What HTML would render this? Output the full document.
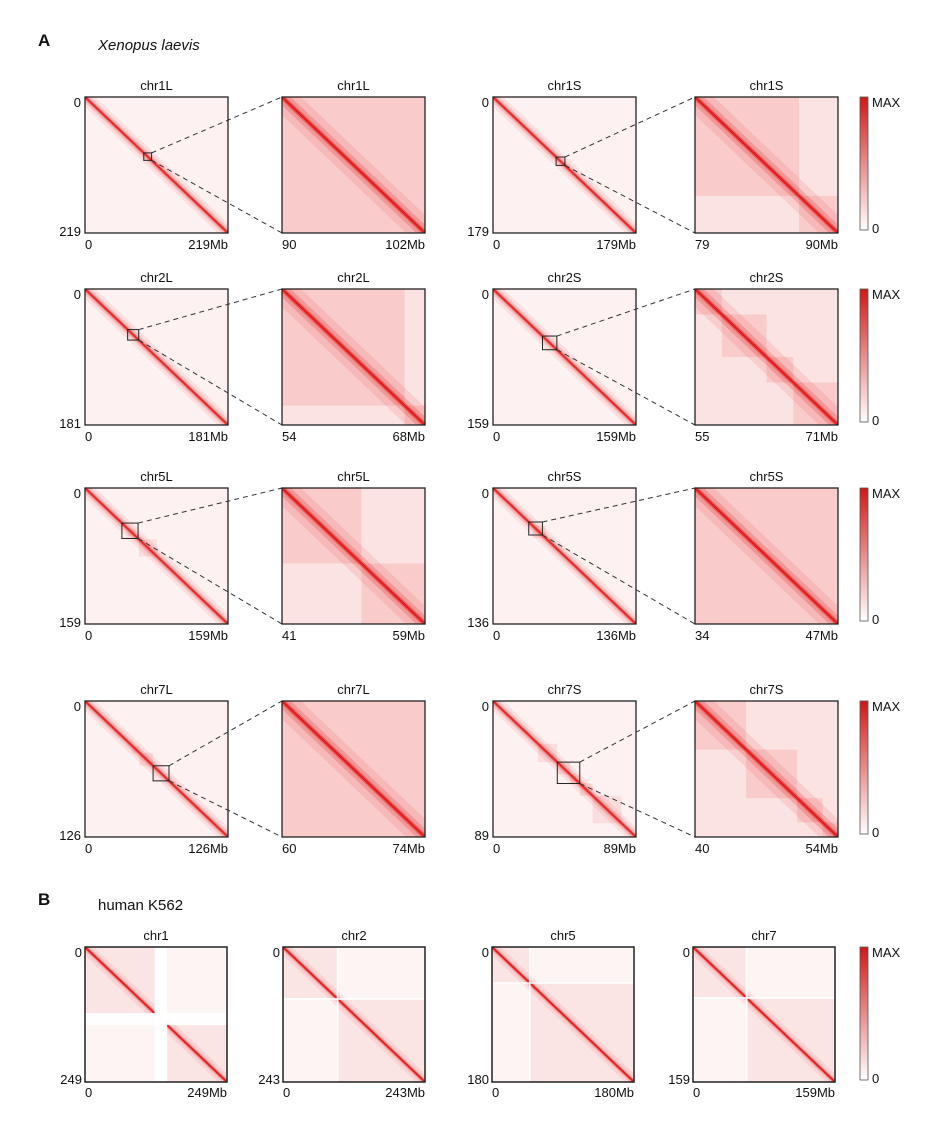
<!DOCTYPE html>
<html><head><meta charset="utf-8">
<style>
body{margin:0;background:#fff;}
svg text{font-family:"Liberation Sans",Arial,sans-serif;fill:#111;}
</style></head>
<body>
<svg id="fig" width="934" height="1129" viewBox="0 0 934 1129" xmlns="http://www.w3.org/2000/svg">
<text x="38" y="46" font-size="17" font-weight="bold">A</text>
<text x="98" y="50" font-size="15" font-style="italic">Xenopus laevis</text>
<text x="38" y="905" font-size="17" font-weight="bold">B</text>
<text x="98" y="910" font-size="15">human K562</text>
<g id="maps"></g>
</svg>
<script>
// Xenopus chromosomes: name, length (Mb), zoom start, zoom end
const xenNames = ["chr1L","chr1S","chr2L","chr2S","chr5L","chr5S","chr7L","chr7S"];
const xenLengths = [219,179,181,159,159,136,126,89];
const zoomStarts = [90,79,54,55,41,34,60,40];
const zoomEnds = [102,90,68,71,59,47,74,54];
// domain blocks within zoomed region (Mb) per chromosome
const zoomDomains = [
 [[90,102]],
 [[79,87],[87,90]],
 [[54,66],[66,68]],
 [[55,58],[58,63],[63,66],[66,71]],
 [[41,51],[51,59]],
 [[34,47]],
 [[60,74]],
 [[40,45],[45,50],[50,52.5],[52.5,54]]
];
// domain blocks across whole chromosome (Mb)
const fullDomains = [
 [],[],[],[],
 [[47,56],[60,80]],
 [[38,50]],
 [[42,48],[48,60]],
 [[28,40],[40,48],[48,54],[54,62],[62,80]]
];
// human K562
const humNames = ["chr1","chr2","chr5","chr7"];
const humLengths = [249,243,180,159];
const humBreaks = [[0,122,144,249],[0,92,95,243],[0,47,49,180],[0,59,61,159]];

const NS="http://www.w3.org/2000/svg";
const root=document.getElementById('maps');
function el(tag,attrs,parent){const e=document.createElementNS(NS,tag);for(const k in attrs)e.setAttribute(k,attrs[k]);(parent||root).appendChild(e);return e;}
let clipId=0;

function heatmap(x,y,w,h,lo,hi,domains,opts){
  const g=el('g',{});
  
  
  const id='c'+(clipId++);
  const cp=el('clipPath',{id:id},g);el('rect',{x:x,y:y,width:w,height:h},cp);
  const inner=el('g',{'clip-path':'url(#'+id+')'},g);
  const sx=v=>x+(v-lo)/(hi-lo)*w, sy=v=>y+(v-lo)/(hi-lo)*h;
  el('rect',{x:x,y:y,width:w,height:h,fill:opts.bg},inner);
  domains.forEach(d=>{
    const r=el('rect',{x:sx(d[0]),y:sy(d[0]),width:sx(d[1])-sx(d[0]),height:sy(d[1])-sy(d[0]),fill:'#e83030','fill-opacity':opts.dom},inner);
    
    
  });
  opts.bands.forEach(b=>el('line',{x1:x,y1:y,x2:x+w,y2:y+h,stroke:'#e01010','stroke-width':b[0],'stroke-opacity':b[1]},inner));
  el('rect',{x:x,y:y,width:w,height:h,fill:'none',stroke:'#222','stroke-width':1.3},g);
  return {sx,sy};
}
function txt(x,y,s,anchor,name,size){const t=el('text',{x:x,y:y,'font-size':size||13,'text-anchor':anchor||'start'});t.textContent=s;return t;}
function colorbar(x,y,h,idx){
  const gid='cb'+idx;
  const lg=el('linearGradient',{id:gid,x1:0,y1:0,x2:0,y2:1});
  el('stop',{offset:0,'stop-color':'#d01818'},lg);el('stop',{offset:1,'stop-color':'#ffffff'},lg);
  const r=el('rect',{x:x,y:y,width:8,height:h,fill:'url(#'+gid+')',stroke:'#555','stroke-width':0.8});
  
  
  txt(x+12,y+10,'MAX','start','colorbar-max-label');
  txt(x+12,y+h+3,'0','start','colorbar-min-label');
}
const W=143,H=136;
const colX=[85,282,493,695];
const rowY=[97,289,488,701];
const mainBands=[[14,0.08],[8,0.15],[4,0.35],[1.8,0.8]];
const zoomBands=[[26,0.1],[12,0.2],[5,0.4],[2.2,0.85]];
xenNames.forEach((nm,i)=>{
  const r=Math.floor(i/2), c=(i%2)*2;
  const x=colX[c], y=rowY[r], zx=colX[c+1], L=xenLengths[i];
  const m=heatmap(x,y,W,H,0,L,fullDomains[i],{name:'heatmap-'+nm,bg:'#fdf1f1',dom:0.1,bands:mainBands});
  txt(x+W/2,y-7,nm,'middle','title-'+nm);
  txt(x-4,y+10,'0','end','y-tick-start-'+nm);
  txt(x-4,y+H+3,String(L),'end','y-tick-end-'+nm);
  txt(x,y+H+16,'0','start','x-tick-start-'+nm);
  txt(x+W,y+H+16,L+'Mb','end','x-tick-end-'+nm);
  const a=zoomStarts[i], b=zoomEnds[i];
  const bx1=m.sx(a),bx2=m.sx(b),by1=m.sy(a),by2=m.sy(b);
  const zr=el('rect',{x:bx1,y:by1,width:bx2-bx1,height:by2-by1,fill:'none',stroke:'#222','stroke-width':1});
  
  
  const l1=el('line',{x1:bx2,y1:by1,x2:zx,y2:y,stroke:'#333','stroke-width':1,'stroke-dasharray':'5,4'});
  
  
  const l2=el('line',{x1:bx2,y1:by2,x2:zx,y2:y+H,stroke:'#333','stroke-width':1,'stroke-dasharray':'5,4'});
  
  
  heatmap(zx,y,W,H,a,b,zoomDomains[i],{name:'zoom-heatmap-'+nm,bg:'#fce3e3',dom:0.13,bands:zoomBands});
  txt(zx+W/2,y-7,nm,'middle','zoom-title-'+nm);
  txt(zx,y+H+16,String(a),'start','zoom-x-tick-start-'+nm);
  txt(zx+W,y+H+16,b+'Mb','end','zoom-x-tick-end-'+nm);
  if(i%2===1) colorbar(860,y,H-3,r);
});
const hX=[85,283,492,693], hY=947, hH=135, hW=142;
humNames.forEach((nm,i)=>{
  const L=humLengths[i], br=humBreaks[i];
  const doms=[[br[0],br[1]],[br[2],br[3]]];
  const m=heatmap(hX[i],hY,hW,hH,0,L,doms,{name:'heatmap-'+nm,bg:'#fdf4f4',dom:0.08,bands:[[12,0.08],[6,0.15],[3,0.45],[1.6,0.85]]});
  const gx=m.sx(br[1]),gw=m.sx(br[2])-gx;
  const s1=el('rect',{x:gx,y:hY+1,width:gw,height:hH-2,fill:'#fff','fill-opacity':0.9});
  
  
  const s2=el('rect',{x:hX[i]+1,y:m.sy(br[1]),width:hW-2,height:m.sy(br[2])-m.sy(br[1]),fill:'#fff','fill-opacity':0.9});
  
  
  el('rect',{x:hX[i],y:hY,width:hW,height:hH,fill:'none',stroke:'#222','stroke-width':1.3});
  txt(hX[i]+hW/2,hY-7,nm,'middle','title-'+nm);
  txt(hX[i]-3,hY+10,'0','end','y-tick-start-'+nm);
  txt(hX[i]-3,hY+hH+2,String(L),'end','y-tick-end-'+nm);
  txt(hX[i],hY+hH+15,'0','start','x-tick-start-'+nm);
  txt(hX[i]+hW,hY+hH+15,L+'Mb','end','x-tick-end-'+nm);
});
colorbar(860,947,133,'h');
</script>
</body></html>
